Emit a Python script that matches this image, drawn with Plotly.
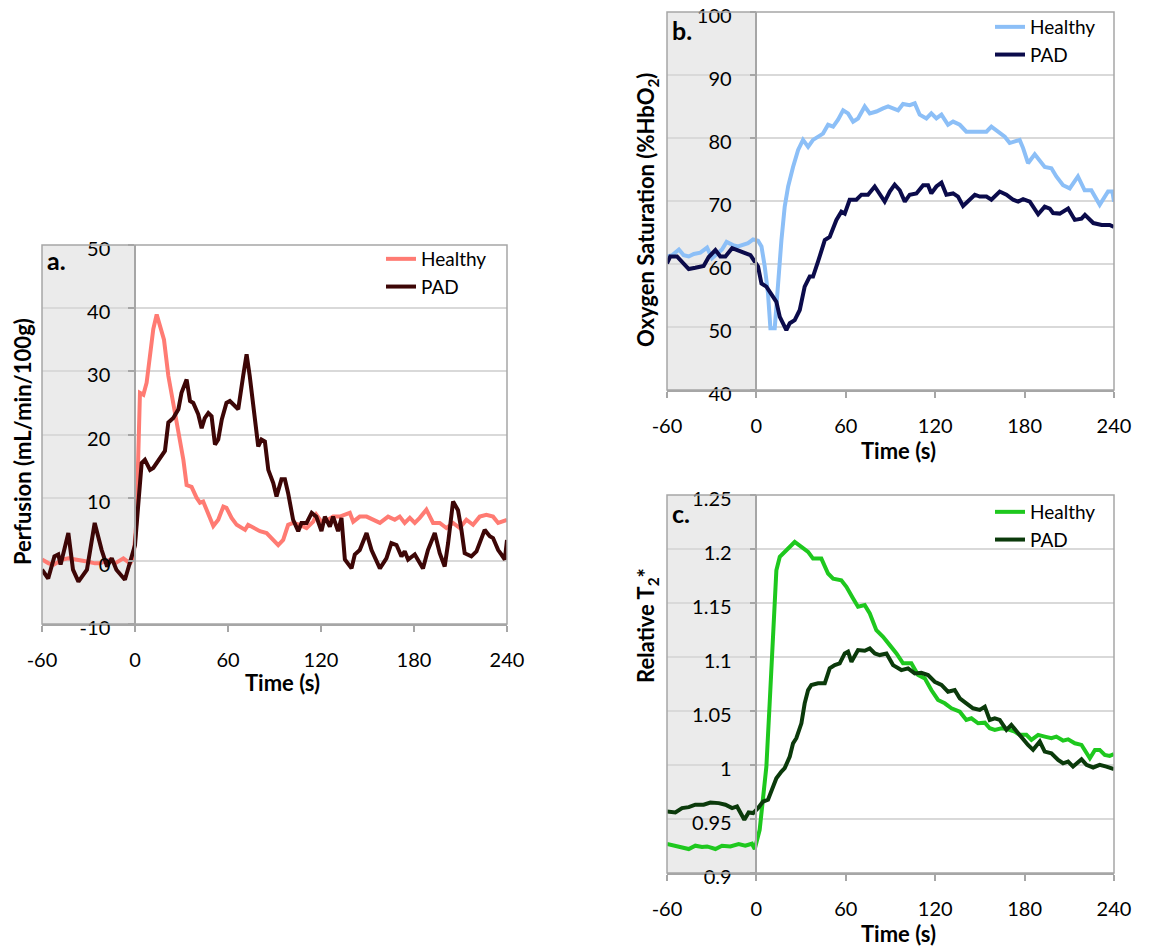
import plotly.graph_objects as go

# ---------------- data ----------------
X_TICKS = [-60, 0, 60, 120, 180, 240]
X_LABELS = ["-60", "0", "60", "120", "180", "240"]
A_Y_TICKS = [-10, 0, 10, 20, 30, 40, 50]
A_Y_LABELS = ["-10", "0", "10", "20", "30", "40", "50"]
B_Y_TICKS = [40, 50, 60, 70, 80, 90, 100]
C_Y_TICKS = [0.9, 0.95, 1.0, 1.05, 1.1, 1.15, 1.2, 1.25]
C_Y_LABELS = ["0.9", "0.95", "1", "1.05", "1.1", "1.15", "1.2", "1.25"]

# Panel a: perfusion (mL/min/100g)
A_HEALTHY_T = [-60, -55.7, -52.4, -47, -43, -37.6, -31, -25.8, -22.6, -16,
               -12.9, -7.5, -3.2, -1, 1, 3.2, 5.4, 7.5, 9.7, 11.8,
               14, 16.1, 18.7, 21.5, 24.7, 28, 31.2, 33.3, 36.5, 39.7,
               41.9, 44, 47.3, 50.5, 53.7, 57, 59, 62.3, 65.6, 71,
               73, 76.3, 80.6, 84.9, 88.1, 92.4, 95.6, 98.8, 102, 106.4,
               110.7, 115, 117, 120.3, 124.6, 127.8, 132.1, 135.4, 138.6, 140.8,
               145, 149.4, 153.7, 158, 163.3, 167.6, 170.8, 174, 177.3, 180.5,
               183.7, 188, 192.3, 196.6, 200.9, 205.2, 209.5, 213.8, 218.1, 222.4,
               226.7, 231, 234.3, 240]
A_HEALTHY_V = [0.2, -0.4, -0.6, 0.2, 0.4, 0.2, -0.1, -0.4, -0.4, 0.2,
               -0.4, 0.4, -0.4, 0.4, 6.5, 26.6, 26.3, 28.2, 33, 36.7,
               39, 37.2, 35, 29.3, 25, 20.8, 16, 12, 11.7, 10,
               9.2, 9.4, 7.3, 5.5, 6.5, 8.6, 8.4, 6.8, 5.7, 4.9,
               5.7, 5.2, 4.7, 4.4, 3.6, 2.5, 3.3, 5.7, 6, 5.7,
               5.2, 6.2, 7.3, 6.2, 6.5, 7, 7, 7.3, 7.6, 6.2,
               7, 7, 6.5, 6, 7, 6.5, 7, 6, 6.8, 6,
               6.8, 8.1, 6, 6, 5.2, 6, 5.2, 6.5, 5.7, 7,
               7.3, 7, 6, 6.5]
A_PAD_T = [-60, -56, -52, -49.5, -48, -43, -40, -36.5, -31, -26,
           -21.5, -18, -15, -12, -6.5, -3, 0, 2, 4.3, 6.4,
           9.7, 11.8, 14, 17, 19.3, 21.5, 24.7, 28, 30, 33.3,
           35.5, 37.6, 40.8, 43, 45, 47.3, 49.4, 51.6, 53.7, 56,
           59, 61.2, 63.4, 66.6, 69.8, 72, 74, 76.3, 79.5, 81.6,
           83.8, 86, 89.2, 91.3, 94.5, 96.7, 98.8, 102, 105.3, 107.4,
           110.7, 114, 117, 120.3, 122.5, 125.7, 127.8, 131, 133.2, 135.4,
           139.7, 141.8, 145, 149.4, 152.6, 158, 162.2, 165.4, 168.7, 171.9,
           174, 176.2, 180.5, 185.8, 189, 193.4, 196.6, 199.8, 202, 205.2,
           208.4, 210.6, 212.7, 217, 220.3, 225.6, 228.9, 231, 234.3, 236.4,
           238.6, 240]
A_PAD_V = [-1.4, -2.8, 0.7, 1, -0.6, 4.4, -1.4, -3.3, -1.4, 6,
           1.7, -0.9, 0.4, -1.4, -3, 0.2, 2.5, 8.6, 15.5, 16,
           14.4, 14.7, 15.5, 16.6, 17.4, 21.9, 22.6, 24, 26.6, 28.7,
           25.3, 25, 23.2, 21, 22.6, 23.4, 22.9, 18.4, 19.2, 22.4,
           25, 25.3, 24.7, 24, 29.3, 32.7, 29.3, 24.5, 18.1, 19.2,
           18.9, 14.4, 12.3, 10.2, 12.9, 12.9, 10.7, 6.5, 4.7, 6,
           6, 7.6, 7, 4.7, 7, 5.4, 7, 4.7, 6.8, 0.2,
           -1.2, 1, 1.7, 4.4, 1.7, -1.2, 0.4, 2.8, 2.5, 0.7,
           1.5, 0.2, 1, -1.2, 1.7, 4.4, 1.2, -0.9, 2.8, 9.4,
           8, 4.9, 1.2, 0.7, 1.5, 4.9, 3.9, 3.6, 1.7, 1,
           0.2, 3.3]

# Panel b: oxygen saturation (%HbO2)
B_HEALTHY_T = [-60, -56.6, -52, -48.8, -45.4, -42, -37.6, -33.1, -29.8, -26.4,
               -23.1, -20, -15.7, -12.3, -9, -5.6, -2.2, 1.1, 3.4, 5.6,
               7.8, 9.4, 12.3, 14.5, 16.8, 19, 21.3, 24.6, 28, 31.3,
               34.7, 38, 41.4, 44.7, 48.1, 51.5, 54.8, 58.2, 61.5, 64.9,
               68.2, 72.7, 76.1, 80.5, 85, 88.4, 91.7, 95.1, 98.4, 102.9,
               106.3, 109.6, 114.1, 117.4, 120.8, 124.2, 128.6, 132, 136.5, 140.9,
               145.4, 149.9, 154.4, 157.7, 162.2, 166.7, 170, 173.4, 176.7, 179,
               182.3, 186.8, 190.2, 193.5, 198, 201.3, 205.8, 210.3, 215.8, 220.3,
               224.8, 230.4, 236, 238.9, 240]
B_HEALTHY_V = [61.2, 61.4, 62.3, 61.4, 61.2, 61.6, 61.8, 62.6, 60.9, 61.7,
               62.3, 63.5, 63, 62.8, 63, 63.3, 63.9, 63.7, 62.8, 59.6,
               55.3, 49.8, 49.8, 57.5, 63.8, 69.1, 72.3, 75.4, 78.1, 79.7,
               78.6, 79.7, 80.2, 80.7, 82.1, 81.8, 82.9, 84.4, 83.9, 82.6,
               83.1, 85, 83.9, 84.2, 84.7, 85, 84.7, 84.4, 85.4, 85.2,
               85.5, 83.7, 83.1, 83.9, 83.1, 83.7, 82.1, 82.6, 82.1, 81,
               81, 81, 81, 81.8, 81, 80.2, 79.2, 79.4, 79.7, 78.4,
               76, 77.4, 76.5, 75.4, 75.2, 73.9, 72.5, 72, 73.9, 71.7,
               71.7, 69.4, 71.5, 71.5, 69.9]
B_PAD_T = [-60, -57.8, -53.3, -49.9, -45.4, -41, -35.4, -32, -27.5, -24.2,
           -20.8, -16.3, -10.7, -6.3, -4, 1.1, 3.4, 6.7, 10.1, 13.4,
           15.7, 19, 20.1, 22.4, 25.7, 29.1, 32.4, 35.8, 38, 41.4,
           45.9, 49.2, 53.7, 57, 59.3, 62.6, 67.1, 70.5, 74.9, 79.4,
           82.8, 86.1, 89.5, 92.8, 96.2, 99.6, 102.9, 107.4, 111.9, 115.2,
           117.4, 120.8, 124.2, 127.5, 132, 135.3, 138.7, 142.1, 146.6, 149.9,
           154.4, 157.7, 163.3, 167.8, 172.3, 175.7, 179, 183.5, 189.1, 193.5,
           196.9, 199.1, 203.6, 209.2, 213.7, 218.2, 220.5, 226.1, 231.7, 237.1,
           240]
B_PAD_V = [60.1, 61.2, 61.2, 60.4, 59.2, 59.4, 59.7, 61.1, 62.2, 61.2,
           61.2, 62.5, 62, 61.7, 61.4, 59.6, 56.9, 56.4, 55.3, 54,
           51.6, 50.1, 49.5, 50.6, 51.1, 52.7, 56.4, 58, 58, 60.4,
           63.8, 64.3, 67, 68.3, 68, 70.2, 70.2, 71, 71, 72.3,
           71, 69.9, 71.5, 72.6, 71.7, 69.9, 71, 71.2, 72.5, 72.5,
           71.2, 72.3, 72.9, 71, 71.2, 70.7, 69.2, 69.9, 71, 70.7,
           70.7, 70.2, 71.5, 71, 70.2, 69.9, 70.3, 69.9, 67.9, 69.1,
           68.8, 68.1, 68, 68.8, 67, 67.2, 67.8, 66.5, 66.2, 66.2,
           65.9]

# Panel c: relative T2*
C_HEALTHY_T = [-60, -55.5, -51, -45.4, -41, -36.5, -33.1, -27.5, -23.1, -17.5,
               -11.9, -7.5, -3, -1.1, 2.2, 4.5, 6.7, 8.9, 11.2, 13.4,
               15.7, 20.1, 25.7, 30.2, 34.7, 38, 43.6, 48.1, 51.5, 57,
               60.4, 64.9, 68.2, 72.7, 76.1, 80.5, 85, 89.5, 94, 98.4,
               104, 108.5, 113, 117.4, 121.9, 126.4, 130.9, 136.5, 140.9, 144.3,
               148.8, 153.3, 156.6, 160, 164.5, 168.9, 173.4, 176.7, 181.2, 184.6,
               189.1, 193.5, 198, 201.3, 205.8, 209.2, 213.7, 218.2, 221.5, 223.8,
               227.2, 230.4, 233.8, 237.1, 240]
C_HEALTHY_V = [0.9268, 0.9253, 0.9246, 0.9222, 0.9253, 0.924, 0.9246, 0.9222, 0.9253, 0.9246,
               0.9268, 0.9253, 0.9271, 0.9222, 0.94, 0.9678, 0.9986, 1.057, 1.1157, 1.1803,
               1.1927, 1.1988, 1.2065, 1.2019, 1.1973, 1.1911, 1.1911, 1.1773, 1.1726, 1.1711,
               1.165, 1.1542, 1.1465, 1.148, 1.1403, 1.1249, 1.1187, 1.111, 1.1033, 1.0941,
               1.0941, 1.0833, 1.0802, 1.0694, 1.0602, 1.0571, 1.0525, 1.0494, 1.0417, 1.0432,
               1.0386, 1.0392, 1.034, 1.0325, 1.034, 1.0331, 1.0309, 1.0279, 1.0279, 1.0232,
               1.0279, 1.0263, 1.0248, 1.0263, 1.0226, 1.0238, 1.0201, 1.0186, 1.0109, 1.0063,
               1.014, 1.014, 1.0094, 1.0084, 1.01]
C_PAD_T = [-60, -54.4, -49.9, -45.4, -41, -35.4, -30.9, -25.3, -20.8, -16.3,
           -13, -10.7, -8.1, -5.2, -2.2, 1.1, 4.5, 7.8, 10.1, 13.4,
           16.8, 19, 22.4, 24.6, 26.8, 30.2, 32.4, 34.7, 36.9, 41.4,
           45.9, 49.2, 52.6, 55.9, 59.3, 61.5, 63.8, 68.2, 72.7, 76.1,
           79.5, 82.8, 87.3, 91.7, 97.3, 101.8, 106.3, 110.7, 115.2, 119.7,
           124.2, 128.6, 133.1, 136.5, 140.9, 145.4, 149.9, 153.3, 156.6, 160,
           163.3, 167.8, 171.1, 175.6, 179, 182.3, 185.7, 190.2, 193.5, 198,
           202.5, 205.8, 209.2, 212.5, 218.2, 221.5, 226, 230.4, 234.9, 240]
C_PAD_V = [0.957, 0.9561, 0.9601, 0.961, 0.9632, 0.9632, 0.9653, 0.9647, 0.9632, 0.9601,
           0.9616, 0.9561, 0.9493, 0.9561, 0.9555, 0.9601, 0.9662, 0.9678, 0.977, 0.9878,
           0.994, 0.9971, 1.0078, 1.0201, 1.0248, 1.0386, 1.0571, 1.0694, 1.0741, 1.0756,
           1.0756, 1.0895, 1.0925, 1.0941, 1.1033, 1.1049, 1.0956, 1.1064, 1.1058, 1.1079,
           1.1033, 1.1018, 1.1033, 1.0925, 1.0879, 1.0895, 1.0848, 1.0854, 1.0833, 1.0771,
           1.0741, 1.0679, 1.0694, 1.0617, 1.0571, 1.0525, 1.051, 1.054, 1.0417, 1.0432,
           1.0417, 1.0325, 1.0371, 1.0294, 1.0248, 1.0186, 1.014, 1.0217, 1.0124, 1.0109,
           1.0047, 1.0016, 1.0032, 0.9985, 1.0053, 1.0001, 0.9977, 1.0001, 0.9985, 0.9961]

SERIES_NAMES = ["Healthy", "PAD"]

# ---------------- styling / layout ----------------
W, H = 1163, 949
FONT = "Lato"
AXIS_GRAY = "#A6A6A6"
GRID_GRAY = "#D9D9D9"
SHADE = "#EBEBEB"
COLORS = {
    "a": ["#FF7B73", "#3D0606"],
    "b": ["#8CBFF7", "#0B0B4B"],
    "c": ["#1EC81E", "#0B3A0B"],
}

# pixel boxes of the three plot areas: (left, right, top, bottom)
BOX = {"a": (42, 507, 245, 624), "b": (667, 1114, 12, 390), "c": (667, 1114, 495, 873)}
AX = {"a": ("x", "y", ""), "b": ("x2", "y2", "2"), "c": ("x3", "y3", "3")}


def px(x):
    return x / W


def py(y):
    return 1 - y / H


fig = go.Figure()

panel_data = {
    "a": [(A_HEALTHY_T, A_HEALTHY_V), (A_PAD_T, A_PAD_V)],
    "b": [(B_HEALTHY_T, B_HEALTHY_V), (B_PAD_T, B_PAD_V)],
    "c": [(C_HEALTHY_T, C_HEALTHY_V), (C_PAD_T, C_PAD_V)],
}

for key, series in panel_data.items():
    xa, ya, suf = AX[key]
    for (t, v), name, col in zip(series, SERIES_NAMES, COLORS[key]):
        fig.add_trace(go.Scatter(
            x=t, y=v, mode="lines", name=name,
            line=dict(color=col, width=4),
            xaxis=xa, yaxis=ya, legend="legend" + suf,
        ))

y_specs = {
    "a": dict(range=[-10, 50], tickvals=A_Y_TICKS, ticktext=A_Y_LABELS),
    "b": dict(range=[40, 100], tickvals=B_Y_TICKS),
    "c": dict(range=[0.9, 1.25], tickvals=C_Y_TICKS, ticktext=C_Y_LABELS),
}

tickfont = dict(family=FONT, size=20, color="black")
layout = dict(
    width=W, height=H, autosize=False,
    margin=dict(l=0, r=0, t=0, b=0, autoexpand=False),
    paper_bgcolor="white", plot_bgcolor="white",
    font=dict(family=FONT, size=20, color="black"),
    showlegend=True,
)

shapes = []
annotations = []
for key in ["a", "b", "c"]:
    l, r, t, b = BOX[key]
    xa, ya, suf = AX[key]
    xd = [px(l), px(r)]
    yd = [py(b), py(t)]
    pos0 = xd[0] + (0 - (-60)) / 300 * (xd[1] - xd[0])
    layout["xaxis" + suf] = dict(
        domain=xd, range=[-60, 240], tickvals=X_TICKS, ticktext=X_LABELS,
        ticks="outside", ticklen=6, tickwidth=1.5, tickcolor=AXIS_GRAY,
        showline=True, linecolor=AXIS_GRAY, linewidth=1.5,
        showgrid=False, zeroline=False, anchor=ya, tickfont=tickfont,
        ticklabelstandoff=11, automargin=False, ticklabeloverflow="allow",
    )
    layout["yaxis" + suf] = dict(
        domain=yd, anchor="free", position=pos0,
        ticks="outside", ticklen=6, tickwidth=1.5, tickcolor=AXIS_GRAY,
        showline=True, linecolor=AXIS_GRAY, linewidth=1.5,
        showgrid=True, gridcolor=GRID_GRAY, gridwidth=1.5, zeroline=False,
        tickfont=tickfont, ticklabelstandoff=14, ticklabelshift=4, automargin=False,
        ticklabeloverflow="allow",
        **y_specs[key],
    )
    # shaded baseline region
    shapes.append(dict(type="rect", xref=xa, yref=ya + " domain", x0=-60, x1=0, y0=0, y1=1,
                       fillcolor=SHADE, line=dict(width=0), layer="below"))
    # frame
    shapes.append(dict(type="rect", xref=xa + " domain", yref=ya + " domain", x0=0, x1=1, y0=0, y1=1,
                       line=dict(color=AXIS_GRAY, width=1.5), fillcolor="rgba(0,0,0,0)", layer="above"))
    # legend
    layout["legend" + suf] = dict(
        xanchor="left", yanchor="top", bgcolor="rgba(0,0,0,0)",
        font=dict(family=FONT, size=19, color="black"), tracegroupgap=0,
    )

layout["legend"].update(x=px(381), y=py(240))
layout["legend2"].update(x=px(990), y=py(8))
layout["legend3"].update(x=px(990), y=py(493))

# panel letters
for key, (x, y) in {"a": (45, 260), "b": (670, 30), "c": (670, 513)}.items():
    annotations.append(dict(text="<b>%s.</b>" % key, xref="paper", yref="paper", x=px(x), y=py(y),
                            xanchor="left", yanchor="middle", showarrow=False,
                            font=dict(family=FONT, size=25, color="black")))

# x titles
for x, y in [(282, 682), (898, 450), (898, 933)]:
    annotations.append(dict(text="<b>Time (s)</b>", xref="paper", yref="paper", x=px(x), y=py(y),
                            xanchor="center", yanchor="middle", showarrow=False,
                            font=dict(family=FONT, size=22, color="black")))

# y titles
for text, x, y in [("<b>Perfusion (mL/min/100g)</b>", 22, 442),
                   ("<b>Oxygen Saturation (%HbO<sub>2</sub>)</b>", 647, 210),
                   ("<b>Relative T<sub>2</sub>*</b>", 647, 626)]:
    annotations.append(dict(text=text, xref="paper", yref="paper", x=px(x), y=py(y),
                            xanchor="center", yanchor="middle", textangle=-90, showarrow=False,
                            font=dict(family=FONT, size=22, color="black")))

layout["shapes"] = shapes
layout["annotations"] = annotations
fig.update_layout(**layout)

fig.write_html("out.html")
